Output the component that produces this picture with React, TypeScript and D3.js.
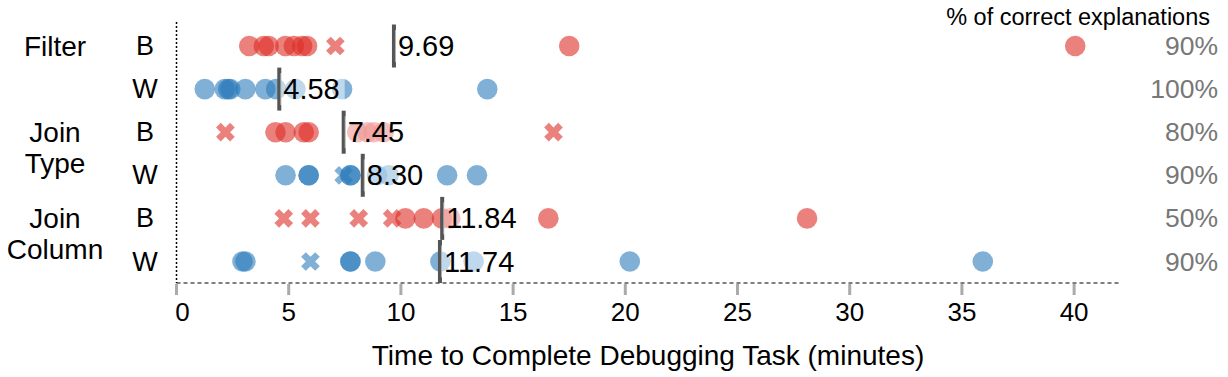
import React from "react";
import * as d3 from "d3";

const rowKeys = ["Filter-B", "Filter-W", "JoinType-B", "JoinType-W", "JoinColumn-B", "JoinColumn-W"];
const rowVersion = ["B", "W", "B", "W", "B", "W"];
const groupLabels = [["Filter"], ["Join", "Type"], ["Join", "Column"]];
const percentLabels = ["90%", "100%", "80%", "90%", "50%", "90%"];
const meanValues = [9.69, 4.58, 7.45, 8.3, 11.84, 11.74];
const meanLabels = ["9.69", "4.58", "7.45", "8.30", "11.84", "11.74"];

// times (minutes) and whether explanation was correct (1) or not (0)
const filterBTimes = [3.24, 3.89, 4.11, 4.85, 5.23, 5.6, 5.82, 7.08, 17.5, 40.05];
const filterBCorrect = [1, 1, 1, 1, 1, 1, 1, 0, 1, 1];
const filterWTimes = [1.26, 2.15, 2.3, 2.4, 3.07, 3.96, 4.44, 5.3, 7.38, 13.85];
const filterWCorrect = [1, 1, 1, 1, 1, 1, 1, 1, 1, 1];
const joinTypeBTimes = [2.18, 4.41, 4.86, 5.67, 5.89, 8.05, 8.5, 8.79, 9.23, 16.8];
const joinTypeBCorrect = [0, 1, 1, 1, 1, 1, 1, 1, 1, 0];
const joinTypeWTimes = [4.86, 5.89, 5.89, 7.45, 7.75, 7.75, 8.94, 9.46, 12.06, 13.39];
const joinTypeWCorrect = [1, 1, 1, 0, 1, 1, 1, 1, 1, 1];
const joinColBTimes = [4.78, 5.97, 8.12, 9.61, 10.2, 11.02, 11.83, 12.2, 16.57, 28.1];
const joinColBCorrect = [0, 0, 0, 0, 1, 1, 1, 1, 1, 1];
const joinColWTimes = [2.94, 3.07, 5.97, 7.75, 7.75, 8.86, 11.76, 13.24, 20.2, 35.93];
const joinColWCorrect = [1, 1, 0, 1, 1, 1, 1, 1, 1, 1];

const xTicks = [0, 5, 10, 15, 20, 25, 30, 35, 40];

const rowTimes = [filterBTimes, filterWTimes, joinTypeBTimes, joinTypeWTimes, joinColBTimes, joinColWTimes];
const rowCorrect = [filterBCorrect, filterWCorrect, joinTypeBCorrect, joinTypeWCorrect, joinColBCorrect, joinColWCorrect];

const W = 1228;
const H = 377;
const FONT = "'Liberation Sans', Arial, sans-serif";
const RED = "#de2d26";
const BLUE = "#2b7bba";

function textWidth(s: string, fs: number) {
  let w = 0;
  for (const c of s) w += c === "." ? 0.278 : 0.556;
  return w * fs;
}

export default function App() {
  const x = d3.scaleLinear().domain([0, 42]).range([176.5, 1119]);
  const y = d3.scalePoint<string>().domain(rowKeys).range([46, 261.5]);
  const cross = d3.symbol().type(d3.symbolCross).size(218)();
  const axisY = 283;
  const meanFs = 29;

  return (
    <svg width={W} height={H} style={{ position: "absolute", left: 0, top: 0, background: "#fff" }} fontFamily={FONT}>
      {/* axes lines */}
      <line x1={x(0)} x2={x(0)} y1={22} y2={axisY} stroke="#000" strokeWidth={1.5} strokeDasharray="2,2" />
      <line x1={x(0)} x2={x(42)} y1={axisY} y2={axisY} stroke="#000" strokeWidth={1} strokeDasharray="4,3" />
      {xTicks.map((t) => (
        <g key={t}>
          <line x1={x(t)} x2={x(t)} y1={axisY + 1} y2={axisY + 12} stroke="#aaa" strokeWidth={3} />
          <text x={x(t) + (t === 0 ? 6 : 0)} y={312} fontSize={26} textAnchor="middle" dominantBaseline="central" fill="#000">
            {t}
          </text>
        </g>
      ))}
      <text x={648} y={355} fontSize={28} textAnchor="middle" dominantBaseline="central">
        Time to Complete Debugging Task (minutes)
      </text>

      {/* left labels */}
      {groupLabels.map((lines, gi) => {
        const yc = y(rowKeys[gi * 2])!;
        return lines.map((ln, li) => (
          <text key={gi + "-" + li} x={55} y={yc + li * 31} fontSize={28} textAnchor="middle" dominantBaseline="central">
            {ln}
          </text>
        ));
      })}
      {rowKeys.map((k, i) => (
        <text key={k} x={145} y={y(k)!} fontSize={27} textAnchor="middle" dominantBaseline="central">
          {rowVersion[i]}
        </text>
      ))}

      {/* points */}
      {rowKeys.map((k, i) => {
        const color = rowVersion[i] === "B" ? RED : BLUE;
        return (
          <g key={k}>
            {rowTimes[i].map((v, j) =>
              rowCorrect[i][j] ? (
                <circle key={j} cx={x(v)} cy={y(k)!} r={10.3} fill={color} fillOpacity={0.6} />
              ) : (
                <path key={j} d={cross!} transform={`translate(${x(v)},${y(k)}) rotate(45)`} fill={color} fillOpacity={0.6} />
              )
            )}
          </g>
        );
      })}

      {/* mean bars and labels */}
      {rowKeys.map((k, i) => {
        const xm = x(meanValues[i]);
        const yc = y(k)!;
        const tw = textWidth(meanLabels[i], meanFs);
        return (
          <g key={k}>
            <rect x={xm - 2} y={yc - 21.5} width={4} height={43} fill="#555" />
            <rect x={xm + 1} y={yc - 16} width={tw + 8} height={32} fill="#fff" fillOpacity={0.5} />
            <text x={xm + 4} y={yc} fontSize={meanFs} dominantBaseline="central" fill="#000">
              {meanLabels[i]}
            </text>
          </g>
        );
      })}

      {/* right labels */}
      <text x={1210} y={17} fontSize={23.5} textAnchor="end" dominantBaseline="central">
        % of correct explanations
      </text>
      {rowKeys.map((k, i) => (
        <text key={k} x={1218} y={y(k)!} fontSize={26.5} textAnchor="end" dominantBaseline="central" fill="#777">
          {percentLabels[i]}
        </text>
      ))}
    </svg>
  );
}
